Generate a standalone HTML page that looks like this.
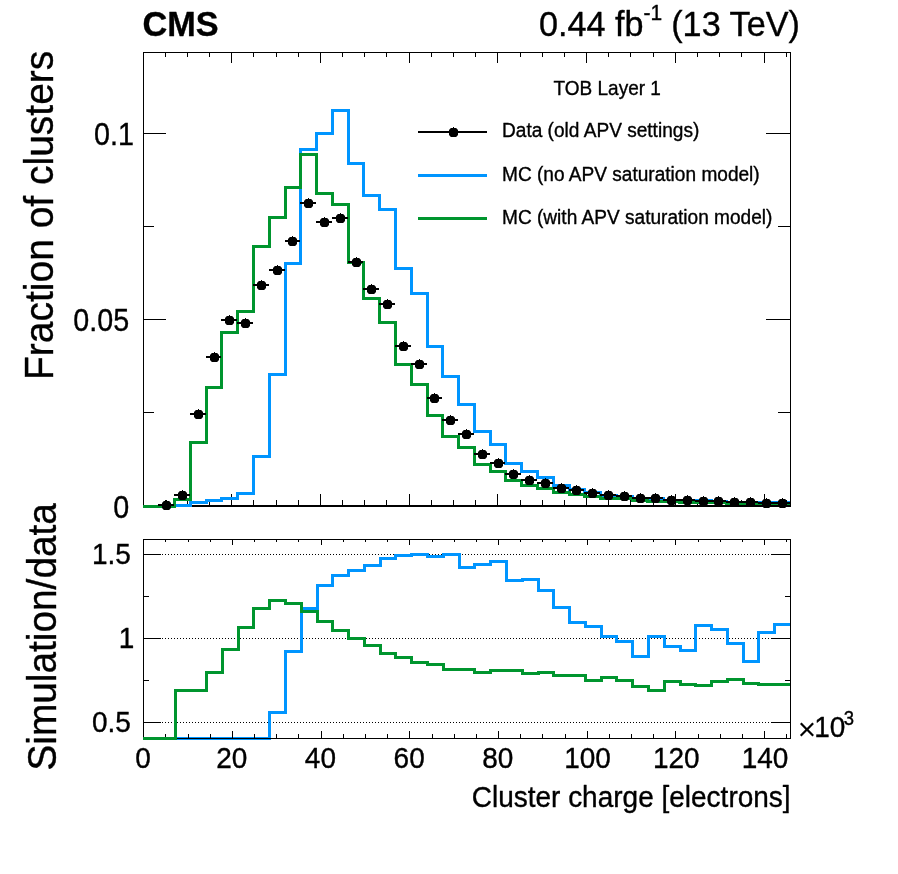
<!DOCTYPE html>
<html lang="en">
<head>
<meta charset="utf-8">
<title>CMS cluster charge - TOB Layer 1</title>
<style>
html,body{margin:0;padding:0;background:#fff;}
body{width:898px;height:874px;overflow:hidden;}
svg{display:block;will-change:transform;}
</style>
</head>
<body>
<svg width="898" height="874" viewBox="0 0 898 874">
<rect x="0" y="0" width="898" height="874" fill="#fff"/>
<g stroke="#000" stroke-width="1" fill="none" shape-rendering="crispEdges">
<rect x="143.5" y="52.5" width="647" height="454"/>
<line x1="143" y1="505.5" x2="791" y2="505.5"/>
<line x1="143.5" y1="506" x2="143.5" y2="494"/>
<line x1="143.5" y1="52" x2="143.5" y2="63"/>
<line x1="165.5" y1="506" x2="165.5" y2="500"/>
<line x1="165.5" y1="52" x2="165.5" y2="57"/>
<line x1="187.5" y1="506" x2="187.5" y2="500"/>
<line x1="187.5" y1="52" x2="187.5" y2="57"/>
<line x1="209.5" y1="506" x2="209.5" y2="500"/>
<line x1="209.5" y1="52" x2="209.5" y2="57"/>
<line x1="231.5" y1="506" x2="231.5" y2="494"/>
<line x1="231.5" y1="52" x2="231.5" y2="63"/>
<line x1="253.5" y1="506" x2="253.5" y2="500"/>
<line x1="253.5" y1="52" x2="253.5" y2="57"/>
<line x1="276.5" y1="506" x2="276.5" y2="500"/>
<line x1="276.5" y1="52" x2="276.5" y2="57"/>
<line x1="298.5" y1="506" x2="298.5" y2="500"/>
<line x1="298.5" y1="52" x2="298.5" y2="57"/>
<line x1="320.5" y1="506" x2="320.5" y2="494"/>
<line x1="320.5" y1="52" x2="320.5" y2="63"/>
<line x1="342.5" y1="506" x2="342.5" y2="500"/>
<line x1="342.5" y1="52" x2="342.5" y2="57"/>
<line x1="364.5" y1="506" x2="364.5" y2="500"/>
<line x1="364.5" y1="52" x2="364.5" y2="57"/>
<line x1="386.5" y1="506" x2="386.5" y2="500"/>
<line x1="386.5" y1="52" x2="386.5" y2="57"/>
<line x1="409.5" y1="506" x2="409.5" y2="494"/>
<line x1="409.5" y1="52" x2="409.5" y2="63"/>
<line x1="431.5" y1="506" x2="431.5" y2="500"/>
<line x1="431.5" y1="52" x2="431.5" y2="57"/>
<line x1="453.5" y1="506" x2="453.5" y2="500"/>
<line x1="453.5" y1="52" x2="453.5" y2="57"/>
<line x1="475.5" y1="506" x2="475.5" y2="500"/>
<line x1="475.5" y1="52" x2="475.5" y2="57"/>
<line x1="497.5" y1="506" x2="497.5" y2="494"/>
<line x1="497.5" y1="52" x2="497.5" y2="63"/>
<line x1="520.5" y1="506" x2="520.5" y2="500"/>
<line x1="520.5" y1="52" x2="520.5" y2="57"/>
<line x1="542.5" y1="506" x2="542.5" y2="500"/>
<line x1="542.5" y1="52" x2="542.5" y2="57"/>
<line x1="564.5" y1="506" x2="564.5" y2="500"/>
<line x1="564.5" y1="52" x2="564.5" y2="57"/>
<line x1="586.5" y1="506" x2="586.5" y2="494"/>
<line x1="586.5" y1="52" x2="586.5" y2="63"/>
<line x1="608.5" y1="506" x2="608.5" y2="500"/>
<line x1="608.5" y1="52" x2="608.5" y2="57"/>
<line x1="630.5" y1="506" x2="630.5" y2="500"/>
<line x1="630.5" y1="52" x2="630.5" y2="57"/>
<line x1="653.5" y1="506" x2="653.5" y2="500"/>
<line x1="653.5" y1="52" x2="653.5" y2="57"/>
<line x1="675.5" y1="506" x2="675.5" y2="494"/>
<line x1="675.5" y1="52" x2="675.5" y2="63"/>
<line x1="697.5" y1="506" x2="697.5" y2="500"/>
<line x1="697.5" y1="52" x2="697.5" y2="57"/>
<line x1="719.5" y1="506" x2="719.5" y2="500"/>
<line x1="719.5" y1="52" x2="719.5" y2="57"/>
<line x1="741.5" y1="506" x2="741.5" y2="500"/>
<line x1="741.5" y1="52" x2="741.5" y2="57"/>
<line x1="764.5" y1="506" x2="764.5" y2="494"/>
<line x1="764.5" y1="52" x2="764.5" y2="63"/>
<line x1="786.5" y1="506" x2="786.5" y2="500"/>
<line x1="786.5" y1="52" x2="786.5" y2="57"/>
<line x1="143" y1="506.5" x2="166" y2="506.5"/>
<line x1="766" y1="506.5" x2="791" y2="506.5"/>
<line x1="143" y1="412.5" x2="154" y2="412.5"/>
<line x1="778" y1="412.5" x2="791" y2="412.5"/>
<line x1="143" y1="319.5" x2="166" y2="319.5"/>
<line x1="766" y1="319.5" x2="791" y2="319.5"/>
<line x1="143" y1="226.5" x2="154" y2="226.5"/>
<line x1="778" y1="226.5" x2="791" y2="226.5"/>
<line x1="143" y1="133.5" x2="166" y2="133.5"/>
<line x1="766" y1="133.5" x2="791" y2="133.5"/>
</g>
<g fill="none" stroke-width="3" stroke-linejoin="miter" stroke-linecap="butt" shape-rendering="crispEdges">
<path d="M143.0,506.5 L158.5,506.5 L158.5,506.5 L174.5,506.5 L174.5,505.5 L190.5,505.5 L190.5,502.5 L206.5,502.5 L206.5,500.5 L221.5,500.5 L221.5,498.5 L237.5,498.5 L237.5,493.5 L253.5,493.5 L253.5,456.5 L269.5,456.5 L269.5,374.5 L285.5,374.5 L285.5,263.5 L300.5,263.5 L300.5,149.5 L316.5,149.5 L316.5,133.5 L332.5,133.5 L332.5,110.5 L348.5,110.5 L348.5,163.5 L363.5,163.5 L363.5,195.5 L379.5,195.5 L379.5,209.5 L395.5,209.5 L395.5,268.5 L411.5,268.5 L411.5,293.5 L427.5,293.5 L427.5,346.5 L442.5,346.5 L442.5,376.5 L458.5,376.5 L458.5,404.5 L474.5,404.5 L474.5,431.5 L490.5,431.5 L490.5,444.5 L505.5,444.5 L505.5,463.5 L521.5,463.5 L521.5,471.5 L537.5,471.5 L537.5,477.5 L553.5,477.5 L553.5,485.5 L569.5,485.5 L569.5,489.5 L584.5,489.5 L584.5,492.5 L600.5,492.5 L600.5,495.5 L616.5,495.5 L616.5,496.5 L632.5,496.5 L632.5,498.5 L647.5,498.5 L647.5,498.5 L663.5,498.5 L663.5,500.5 L679.5,500.5 L679.5,500.5 L695.5,500.5 L695.5,500.5 L711.5,500.5 L711.5,501.5 L726.5,501.5 L726.5,502.5 L742.5,502.5 L742.5,503.5 L758.5,503.5 L758.5,502.5 L774.5,502.5 L774.5,502.5 L790.0,502.5" stroke="#0095ff"/>
<path d="M143.0,506.5 L158.5,506.5 L158.5,506.5 L174.5,506.5 L174.5,499.5 L190.5,499.5 L190.5,442.5 L206.5,442.5 L206.5,387.5 L221.5,387.5 L221.5,332.5 L237.5,332.5 L237.5,311.5 L253.5,311.5 L253.5,246.5 L269.5,246.5 L269.5,217.5 L285.5,217.5 L285.5,187.5 L300.5,187.5 L300.5,154.5 L316.5,154.5 L316.5,193.5 L332.5,193.5 L332.5,204.5 L348.5,204.5 L348.5,262.5 L363.5,262.5 L363.5,298.5 L379.5,298.5 L379.5,322.5 L395.5,322.5 L395.5,364.5 L411.5,364.5 L411.5,384.5 L427.5,384.5 L427.5,415.5 L442.5,415.5 L442.5,436.5 L458.5,436.5 L458.5,447.5 L474.5,447.5 L474.5,464.5 L490.5,464.5 L490.5,471.5 L505.5,471.5 L505.5,480.5 L521.5,480.5 L521.5,485.5 L537.5,485.5 L537.5,488.5 L553.5,488.5 L553.5,492.5 L569.5,492.5 L569.5,494.5 L584.5,494.5 L584.5,496.5 L600.5,496.5 L600.5,498.5 L616.5,498.5 L616.5,498.5 L632.5,498.5 L632.5,500.5 L647.5,500.5 L647.5,501.5 L663.5,501.5 L663.5,501.5 L679.5,501.5 L679.5,502.5 L695.5,502.5 L695.5,502.5 L711.5,502.5 L711.5,502.5 L726.5,502.5 L726.5,503.5 L742.5,503.5 L742.5,503.5 L758.5,503.5 L758.5,503.5 L774.5,503.5 L774.5,503.5 L790.0,503.5" stroke="#00952e"/>
</g>
<g stroke="#000" stroke-width="1" fill="none" shape-rendering="crispEdges" stroke-dasharray="1 2">
<line x1="144" y1="722.5" x2="790" y2="722.5"/>
<line x1="144" y1="638.5" x2="790" y2="638.5"/>
<line x1="144" y1="554.5" x2="790" y2="554.5"/>
</g>
<g fill="none" stroke-width="3" stroke-linejoin="miter" stroke-linecap="butt" shape-rendering="crispEdges">
<path d="M143.0,738.5 L159.5,738.5 L159.5,738.5 L175.5,738.5 L175.5,738.5 L190.5,738.5 L190.5,738.5 L206.5,738.5 L206.5,738.5 L222.5,738.5 L222.5,738.5 L238.5,738.5 L238.5,738.5 L253.5,738.5 L253.5,738.5 L269.5,738.5 L269.5,712.5 L285.5,712.5 L285.5,651.5 L301.5,651.5 L301.5,608.5 L317.5,608.5 L317.5,585.5 L332.5,585.5 L332.5,575.5 L348.5,575.5 L348.5,570.5 L364.5,570.5 L364.5,565.5 L380.5,565.5 L380.5,558.5 L395.5,558.5 L395.5,555.5 L411.5,555.5 L411.5,554.5 L427.5,554.5 L427.5,556.5 L443.5,556.5 L443.5,554.5 L459.5,554.5 L459.5,567.5 L474.5,567.5 L474.5,564.5 L490.5,564.5 L490.5,561.5 L506.5,561.5 L506.5,580.5 L522.5,580.5 L522.5,579.5 L538.5,579.5 L538.5,590.5 L553.5,590.5 L553.5,607.5 L569.5,607.5 L569.5,622.5 L585.5,622.5 L585.5,626.5 L601.5,626.5 L601.5,636.5 L616.5,636.5 L616.5,641.5 L632.5,641.5 L632.5,656.5 L648.5,656.5 L648.5,636.5 L664.5,636.5 L664.5,646.5 L680.5,646.5 L680.5,650.5 L695.5,650.5 L695.5,625.5 L711.5,625.5 L711.5,629.5 L727.5,629.5 L727.5,643.5 L743.5,643.5 L743.5,661.5 L758.5,661.5 L758.5,632.5 L774.5,632.5 L774.5,624.5 L790.0,624.5" stroke="#0095ff"/>
</g>
<g stroke="#000" stroke-width="1" fill="none" shape-rendering="crispEdges">
<rect x="143.5" y="539.5" width="647" height="199"/>
<line x1="143.5" y1="738" x2="143.5" y2="731"/>
<line x1="143.5" y1="539" x2="143.5" y2="545"/>
<line x1="165.5" y1="738" x2="165.5" y2="734"/>
<line x1="165.5" y1="539" x2="165.5" y2="542"/>
<line x1="188.5" y1="738" x2="188.5" y2="734"/>
<line x1="188.5" y1="539" x2="188.5" y2="542"/>
<line x1="210.5" y1="738" x2="210.5" y2="734"/>
<line x1="210.5" y1="539" x2="210.5" y2="542"/>
<line x1="232.5" y1="738" x2="232.5" y2="731"/>
<line x1="232.5" y1="539" x2="232.5" y2="545"/>
<line x1="254.5" y1="738" x2="254.5" y2="734"/>
<line x1="254.5" y1="539" x2="254.5" y2="542"/>
<line x1="276.5" y1="738" x2="276.5" y2="734"/>
<line x1="276.5" y1="539" x2="276.5" y2="542"/>
<line x1="298.5" y1="738" x2="298.5" y2="734"/>
<line x1="298.5" y1="539" x2="298.5" y2="542"/>
<line x1="321.5" y1="738" x2="321.5" y2="731"/>
<line x1="321.5" y1="539" x2="321.5" y2="545"/>
<line x1="343.5" y1="738" x2="343.5" y2="734"/>
<line x1="343.5" y1="539" x2="343.5" y2="542"/>
<line x1="365.5" y1="738" x2="365.5" y2="734"/>
<line x1="365.5" y1="539" x2="365.5" y2="542"/>
<line x1="387.5" y1="738" x2="387.5" y2="734"/>
<line x1="387.5" y1="539" x2="387.5" y2="542"/>
<line x1="409.5" y1="738" x2="409.5" y2="731"/>
<line x1="409.5" y1="539" x2="409.5" y2="545"/>
<line x1="432.5" y1="738" x2="432.5" y2="734"/>
<line x1="432.5" y1="539" x2="432.5" y2="542"/>
<line x1="454.5" y1="738" x2="454.5" y2="734"/>
<line x1="454.5" y1="539" x2="454.5" y2="542"/>
<line x1="476.5" y1="738" x2="476.5" y2="734"/>
<line x1="476.5" y1="539" x2="476.5" y2="542"/>
<line x1="498.5" y1="738" x2="498.5" y2="731"/>
<line x1="498.5" y1="539" x2="498.5" y2="545"/>
<line x1="520.5" y1="738" x2="520.5" y2="734"/>
<line x1="520.5" y1="539" x2="520.5" y2="542"/>
<line x1="542.5" y1="738" x2="542.5" y2="734"/>
<line x1="542.5" y1="539" x2="542.5" y2="542"/>
<line x1="565.5" y1="738" x2="565.5" y2="734"/>
<line x1="565.5" y1="539" x2="565.5" y2="542"/>
<line x1="587.5" y1="738" x2="587.5" y2="731"/>
<line x1="587.5" y1="539" x2="587.5" y2="545"/>
<line x1="609.5" y1="738" x2="609.5" y2="734"/>
<line x1="609.5" y1="539" x2="609.5" y2="542"/>
<line x1="631.5" y1="738" x2="631.5" y2="734"/>
<line x1="631.5" y1="539" x2="631.5" y2="542"/>
<line x1="653.5" y1="738" x2="653.5" y2="734"/>
<line x1="653.5" y1="539" x2="653.5" y2="542"/>
<line x1="675.5" y1="738" x2="675.5" y2="731"/>
<line x1="675.5" y1="539" x2="675.5" y2="545"/>
<line x1="698.5" y1="738" x2="698.5" y2="734"/>
<line x1="698.5" y1="539" x2="698.5" y2="542"/>
<line x1="720.5" y1="738" x2="720.5" y2="734"/>
<line x1="720.5" y1="539" x2="720.5" y2="542"/>
<line x1="742.5" y1="738" x2="742.5" y2="734"/>
<line x1="742.5" y1="539" x2="742.5" y2="542"/>
<line x1="764.5" y1="738" x2="764.5" y2="731"/>
<line x1="764.5" y1="539" x2="764.5" y2="545"/>
<line x1="786.5" y1="738" x2="786.5" y2="734"/>
<line x1="786.5" y1="539" x2="786.5" y2="542"/>
<line x1="143" y1="722.5" x2="161" y2="722.5"/>
<line x1="771" y1="722.5" x2="791" y2="722.5"/>
<line x1="143" y1="680.5" x2="149" y2="680.5"/>
<line x1="785" y1="680.5" x2="791" y2="680.5"/>
<line x1="143" y1="638.5" x2="161" y2="638.5"/>
<line x1="771" y1="638.5" x2="791" y2="638.5"/>
<line x1="143" y1="596.5" x2="149" y2="596.5"/>
<line x1="785" y1="596.5" x2="791" y2="596.5"/>
<line x1="143" y1="554.5" x2="161" y2="554.5"/>
<line x1="771" y1="554.5" x2="791" y2="554.5"/>
</g>
<g fill="none" stroke-width="3" stroke-linejoin="miter" stroke-linecap="butt" shape-rendering="crispEdges">
<path d="M143.0,738.5 L159.5,738.5 L159.5,738.5 L175.5,738.5 L175.5,690.5 L190.5,690.5 L190.5,690.5 L206.5,690.5 L206.5,672.5 L222.5,672.5 L222.5,649.5 L238.5,649.5 L238.5,627.5 L253.5,627.5 L253.5,608.5 L269.5,608.5 L269.5,600.5 L285.5,600.5 L285.5,603.5 L301.5,603.5 L301.5,611.5 L317.5,611.5 L317.5,621.5 L332.5,621.5 L332.5,630.5 L348.5,630.5 L348.5,638.5 L364.5,638.5 L364.5,645.5 L380.5,645.5 L380.5,653.5 L395.5,653.5 L395.5,657.5 L411.5,657.5 L411.5,662.5 L427.5,662.5 L427.5,664.5 L443.5,664.5 L443.5,669.5 L459.5,669.5 L459.5,669.5 L474.5,669.5 L474.5,672.5 L490.5,672.5 L490.5,670.5 L506.5,670.5 L506.5,670.5 L522.5,670.5 L522.5,673.5 L538.5,673.5 L538.5,672.5 L553.5,672.5 L553.5,675.5 L569.5,675.5 L569.5,675.5 L585.5,675.5 L585.5,680.5 L601.5,680.5 L601.5,677.5 L616.5,677.5 L616.5,680.5 L632.5,680.5 L632.5,686.5 L648.5,686.5 L648.5,690.5 L664.5,690.5 L664.5,681.5 L680.5,681.5 L680.5,684.5 L695.5,684.5 L695.5,685.5 L711.5,685.5 L711.5,681.5 L727.5,681.5 L727.5,679.5 L743.5,679.5 L743.5,683.5 L758.5,683.5 L758.5,684.5 L774.5,684.5 L774.5,684.5 L790.0,684.5" stroke="#00952e"/>
</g>
<g stroke="#000" shape-rendering="crispEdges">
<line x1="158.0" y1="505.0" x2="174.0" y2="505.0" stroke-width="2"/>
<line x1="166.5" y1="500.0" x2="166.5" y2="505.5" stroke-width="1"/>
<line x1="174.0" y1="495.0" x2="190.0" y2="495.0" stroke-width="2"/>
<line x1="182.5" y1="490.0" x2="182.5" y2="495.5" stroke-width="1"/>
<line x1="190.0" y1="414.0" x2="206.0" y2="414.0" stroke-width="2"/>
<line x1="198.5" y1="409.0" x2="198.5" y2="414.5" stroke-width="1"/>
<line x1="206.0" y1="357.0" x2="221.0" y2="357.0" stroke-width="2"/>
<line x1="214.5" y1="352.0" x2="214.5" y2="357.5" stroke-width="1"/>
<line x1="221.0" y1="320.0" x2="237.0" y2="320.0" stroke-width="2"/>
<line x1="229.5" y1="315.0" x2="229.5" y2="320.5" stroke-width="1"/>
<line x1="237.0" y1="323.0" x2="253.0" y2="323.0" stroke-width="2"/>
<line x1="245.5" y1="318.0" x2="245.5" y2="323.5" stroke-width="1"/>
<line x1="253.0" y1="285.0" x2="269.0" y2="285.0" stroke-width="2"/>
<line x1="261.5" y1="280.0" x2="261.5" y2="285.5" stroke-width="1"/>
<line x1="269.0" y1="270.0" x2="285.0" y2="270.0" stroke-width="2"/>
<line x1="277.5" y1="265.0" x2="277.5" y2="270.5" stroke-width="1"/>
<line x1="285.0" y1="241.0" x2="300.0" y2="241.0" stroke-width="2"/>
<line x1="292.5" y1="236.0" x2="292.5" y2="241.5" stroke-width="1"/>
<line x1="300.0" y1="203.0" x2="316.0" y2="203.0" stroke-width="2"/>
<line x1="308.5" y1="198.0" x2="308.5" y2="203.5" stroke-width="1"/>
<line x1="316.0" y1="222.0" x2="332.0" y2="222.0" stroke-width="2"/>
<line x1="324.5" y1="217.0" x2="324.5" y2="222.5" stroke-width="1"/>
<line x1="332.0" y1="218.0" x2="348.0" y2="218.0" stroke-width="2"/>
<line x1="340.5" y1="213.0" x2="340.5" y2="218.5" stroke-width="1"/>
<line x1="348.0" y1="262.0" x2="363.0" y2="262.0" stroke-width="2"/>
<line x1="356.5" y1="257.0" x2="356.5" y2="262.5" stroke-width="1"/>
<line x1="363.0" y1="289.0" x2="379.0" y2="289.0" stroke-width="2"/>
<line x1="371.5" y1="284.0" x2="371.5" y2="289.5" stroke-width="1"/>
<line x1="379.0" y1="304.0" x2="395.0" y2="304.0" stroke-width="2"/>
<line x1="387.5" y1="299.0" x2="387.5" y2="304.5" stroke-width="1"/>
<line x1="395.0" y1="346.0" x2="411.0" y2="346.0" stroke-width="2"/>
<line x1="403.5" y1="341.0" x2="403.5" y2="346.5" stroke-width="1"/>
<line x1="411.0" y1="364.0" x2="427.0" y2="364.0" stroke-width="2"/>
<line x1="419.5" y1="359.0" x2="419.5" y2="364.5" stroke-width="1"/>
<line x1="427.0" y1="398.0" x2="442.0" y2="398.0" stroke-width="2"/>
<line x1="434.5" y1="393.0" x2="434.5" y2="398.5" stroke-width="1"/>
<line x1="442.0" y1="420.0" x2="458.0" y2="420.0" stroke-width="2"/>
<line x1="450.5" y1="415.0" x2="450.5" y2="420.5" stroke-width="1"/>
<line x1="458.0" y1="434.0" x2="474.0" y2="434.0" stroke-width="2"/>
<line x1="466.5" y1="429.0" x2="466.5" y2="434.5" stroke-width="1"/>
<line x1="474.0" y1="454.0" x2="490.0" y2="454.0" stroke-width="2"/>
<line x1="482.5" y1="449.0" x2="482.5" y2="454.5" stroke-width="1"/>
<line x1="490.0" y1="463.0" x2="505.0" y2="463.0" stroke-width="2"/>
<line x1="498.5" y1="458.0" x2="498.5" y2="463.5" stroke-width="1"/>
<line x1="505.0" y1="474.0" x2="521.0" y2="474.0" stroke-width="2"/>
<line x1="513.5" y1="469.0" x2="513.5" y2="474.5" stroke-width="1"/>
<line x1="521.0" y1="480.0" x2="537.0" y2="480.0" stroke-width="2"/>
<line x1="529.5" y1="475.0" x2="529.5" y2="480.5" stroke-width="1"/>
<line x1="537.0" y1="483.0" x2="553.0" y2="483.0" stroke-width="2"/>
<line x1="545.5" y1="478.0" x2="545.5" y2="483.5" stroke-width="1"/>
<line x1="553.0" y1="488.0" x2="569.0" y2="488.0" stroke-width="2"/>
<line x1="561.5" y1="483.0" x2="561.5" y2="488.5" stroke-width="1"/>
<line x1="569.0" y1="490.0" x2="584.0" y2="490.0" stroke-width="2"/>
<line x1="576.5" y1="485.0" x2="576.5" y2="490.5" stroke-width="1"/>
<line x1="584.0" y1="493.0" x2="600.0" y2="493.0" stroke-width="2"/>
<line x1="592.5" y1="488.0" x2="592.5" y2="493.5" stroke-width="1"/>
<line x1="600.0" y1="495.0" x2="616.0" y2="495.0" stroke-width="2"/>
<line x1="608.5" y1="490.0" x2="608.5" y2="495.5" stroke-width="1"/>
<line x1="616.0" y1="496.0" x2="632.0" y2="496.0" stroke-width="2"/>
<line x1="624.5" y1="491.0" x2="624.5" y2="496.5" stroke-width="1"/>
<line x1="632.0" y1="498.0" x2="647.0" y2="498.0" stroke-width="2"/>
<line x1="640.5" y1="493.0" x2="640.5" y2="498.5" stroke-width="1"/>
<line x1="647.0" y1="498.0" x2="663.0" y2="498.0" stroke-width="2"/>
<line x1="655.5" y1="493.0" x2="655.5" y2="498.5" stroke-width="1"/>
<line x1="663.0" y1="500.0" x2="679.0" y2="500.0" stroke-width="2"/>
<line x1="671.5" y1="495.0" x2="671.5" y2="500.5" stroke-width="1"/>
<line x1="679.0" y1="500.0" x2="695.0" y2="500.0" stroke-width="2"/>
<line x1="687.5" y1="495.0" x2="687.5" y2="500.5" stroke-width="1"/>
<line x1="695.0" y1="501.0" x2="711.0" y2="501.0" stroke-width="2"/>
<line x1="703.5" y1="496.0" x2="703.5" y2="501.5" stroke-width="1"/>
<line x1="711.0" y1="501.0" x2="726.0" y2="501.0" stroke-width="2"/>
<line x1="718.5" y1="496.0" x2="718.5" y2="501.5" stroke-width="1"/>
<line x1="726.0" y1="502.0" x2="742.0" y2="502.0" stroke-width="2"/>
<line x1="734.5" y1="497.0" x2="734.5" y2="502.5" stroke-width="1"/>
<line x1="742.0" y1="502.0" x2="758.0" y2="502.0" stroke-width="2"/>
<line x1="750.5" y1="497.0" x2="750.5" y2="502.5" stroke-width="1"/>
<line x1="758.0" y1="503.0" x2="774.0" y2="503.0" stroke-width="2"/>
<line x1="766.5" y1="498.0" x2="766.5" y2="503.5" stroke-width="1"/>
<line x1="774.0" y1="503.0" x2="790.5" y2="503.0" stroke-width="2"/>
<line x1="782.5" y1="498.0" x2="782.5" y2="503.5" stroke-width="1"/>
</g>
<g fill="#000">
<polygon points="163.9,501.0 169.1,501.0 171.0,502.9 171.0,508.1 169.1,510.0 163.9,510.0 162.0,508.1 162.0,502.9"/>
<polygon points="179.9,491.0 185.1,491.0 187.0,492.9 187.0,498.1 185.1,500.0 179.9,500.0 178.0,498.1 178.0,492.9"/>
<polygon points="195.9,410.0 201.1,410.0 203.0,411.9 203.0,417.1 201.1,419.0 195.9,419.0 194.0,417.1 194.0,411.9"/>
<polygon points="211.9,353.0 217.1,353.0 219.0,354.9 219.0,360.1 217.1,362.0 211.9,362.0 210.0,360.1 210.0,354.9"/>
<polygon points="226.9,316.0 232.1,316.0 234.0,317.9 234.0,323.1 232.1,325.0 226.9,325.0 225.0,323.1 225.0,317.9"/>
<polygon points="242.9,319.0 248.1,319.0 250.0,320.9 250.0,326.1 248.1,328.0 242.9,328.0 241.0,326.1 241.0,320.9"/>
<polygon points="258.9,281.0 264.1,281.0 266.0,282.9 266.0,288.1 264.1,290.0 258.9,290.0 257.0,288.1 257.0,282.9"/>
<polygon points="274.9,266.0 280.1,266.0 282.0,267.9 282.0,273.1 280.1,275.0 274.9,275.0 273.0,273.1 273.0,267.9"/>
<polygon points="289.9,237.0 295.1,237.0 297.0,238.9 297.0,244.1 295.1,246.0 289.9,246.0 288.0,244.1 288.0,238.9"/>
<polygon points="305.9,199.0 311.1,199.0 313.0,200.9 313.0,206.1 311.1,208.0 305.9,208.0 304.0,206.1 304.0,200.9"/>
<polygon points="321.9,218.0 327.1,218.0 329.0,219.9 329.0,225.1 327.1,227.0 321.9,227.0 320.0,225.1 320.0,219.9"/>
<polygon points="337.9,214.0 343.1,214.0 345.0,215.9 345.0,221.1 343.1,223.0 337.9,223.0 336.0,221.1 336.0,215.9"/>
<polygon points="353.9,258.0 359.1,258.0 361.0,259.9 361.0,265.1 359.1,267.0 353.9,267.0 352.0,265.1 352.0,259.9"/>
<polygon points="368.9,285.0 374.1,285.0 376.0,286.9 376.0,292.1 374.1,294.0 368.9,294.0 367.0,292.1 367.0,286.9"/>
<polygon points="384.9,300.0 390.1,300.0 392.0,301.9 392.0,307.1 390.1,309.0 384.9,309.0 383.0,307.1 383.0,301.9"/>
<polygon points="400.9,342.0 406.1,342.0 408.0,343.9 408.0,349.1 406.1,351.0 400.9,351.0 399.0,349.1 399.0,343.9"/>
<polygon points="416.9,360.0 422.1,360.0 424.0,361.9 424.0,367.1 422.1,369.0 416.9,369.0 415.0,367.1 415.0,361.9"/>
<polygon points="431.9,394.0 437.1,394.0 439.0,395.9 439.0,401.1 437.1,403.0 431.9,403.0 430.0,401.1 430.0,395.9"/>
<polygon points="447.9,416.0 453.1,416.0 455.0,417.9 455.0,423.1 453.1,425.0 447.9,425.0 446.0,423.1 446.0,417.9"/>
<polygon points="463.9,430.0 469.1,430.0 471.0,431.9 471.0,437.1 469.1,439.0 463.9,439.0 462.0,437.1 462.0,431.9"/>
<polygon points="479.9,450.0 485.1,450.0 487.0,451.9 487.0,457.1 485.1,459.0 479.9,459.0 478.0,457.1 478.0,451.9"/>
<polygon points="495.9,459.0 501.1,459.0 503.0,460.9 503.0,466.1 501.1,468.0 495.9,468.0 494.0,466.1 494.0,460.9"/>
<polygon points="510.9,470.0 516.1,470.0 518.0,471.9 518.0,477.1 516.1,479.0 510.9,479.0 509.0,477.1 509.0,471.9"/>
<polygon points="526.9,476.0 532.1,476.0 534.0,477.9 534.0,483.1 532.1,485.0 526.9,485.0 525.0,483.1 525.0,477.9"/>
<polygon points="542.9,479.0 548.1,479.0 550.0,480.9 550.0,486.1 548.1,488.0 542.9,488.0 541.0,486.1 541.0,480.9"/>
<polygon points="558.9,484.0 564.1,484.0 566.0,485.9 566.0,491.1 564.1,493.0 558.9,493.0 557.0,491.1 557.0,485.9"/>
<polygon points="573.9,486.0 579.1,486.0 581.0,487.9 581.0,493.1 579.1,495.0 573.9,495.0 572.0,493.1 572.0,487.9"/>
<polygon points="589.9,489.0 595.1,489.0 597.0,490.9 597.0,496.1 595.1,498.0 589.9,498.0 588.0,496.1 588.0,490.9"/>
<polygon points="605.9,491.0 611.1,491.0 613.0,492.9 613.0,498.1 611.1,500.0 605.9,500.0 604.0,498.1 604.0,492.9"/>
<polygon points="621.9,492.0 627.1,492.0 629.0,493.9 629.0,499.1 627.1,501.0 621.9,501.0 620.0,499.1 620.0,493.9"/>
<polygon points="637.9,494.0 643.1,494.0 645.0,495.9 645.0,501.1 643.1,503.0 637.9,503.0 636.0,501.1 636.0,495.9"/>
<polygon points="652.9,494.0 658.1,494.0 660.0,495.9 660.0,501.1 658.1,503.0 652.9,503.0 651.0,501.1 651.0,495.9"/>
<polygon points="668.9,496.0 674.1,496.0 676.0,497.9 676.0,503.1 674.1,505.0 668.9,505.0 667.0,503.1 667.0,497.9"/>
<polygon points="684.9,496.0 690.1,496.0 692.0,497.9 692.0,503.1 690.1,505.0 684.9,505.0 683.0,503.1 683.0,497.9"/>
<polygon points="700.9,497.0 706.1,497.0 708.0,498.9 708.0,504.1 706.1,506.0 700.9,506.0 699.0,504.1 699.0,498.9"/>
<polygon points="715.9,497.0 721.1,497.0 723.0,498.9 723.0,504.1 721.1,506.0 715.9,506.0 714.0,504.1 714.0,498.9"/>
<polygon points="731.9,498.0 737.1,498.0 739.0,499.9 739.0,505.1 737.1,507.0 731.9,507.0 730.0,505.1 730.0,499.9"/>
<polygon points="747.9,498.0 753.1,498.0 755.0,499.9 755.0,505.1 753.1,507.0 747.9,507.0 746.0,505.1 746.0,499.9"/>
<polygon points="763.9,499.0 769.1,499.0 771.0,500.9 771.0,506.1 769.1,508.0 763.9,508.0 762.0,506.1 762.0,500.9"/>
<polygon points="779.9,499.0 785.1,499.0 787.0,500.9 787.0,506.1 785.1,508.0 779.9,508.0 778.0,506.1 778.0,500.9"/>
</g>
<g shape-rendering="crispEdges" fill="none">
<line x1="418" y1="132" x2="487" y2="132" stroke="#000" stroke-width="2"/>
<line x1="418" y1="175.5" x2="487" y2="175.5" stroke="#0095ff" stroke-width="3"/>
<line x1="418" y1="218.5" x2="487" y2="218.5" stroke="#00952e" stroke-width="3"/>
</g>
<g fill="#000"><polygon points="450.9,128.0 456.1,128.0 458.0,129.9 458.0,135.1 456.1,137.0 450.9,137.0 449.0,135.1 449.0,129.9"/><rect x="453" y="127" width="1" height="2" shape-rendering="crispEdges"/></g>
<g font-family="'Liberation Sans', Arial, Helvetica, sans-serif" fill="#000" stroke="#000" stroke-width="0.35" stroke-linejoin="round">
<text transform="translate(142.40,36.00) scale(1.0000,1.0300)" font-size="34.3" font-weight="bold">CMS</text>
<text transform="translate(539.00,35.50) scale(1.0000,1.0450)" font-size="34.2">0.44 fb<tspan font-size="21" dy="-14.4">-1</tspan><tspan dy="14.4" dx="-0.5"> (13 TeV)</tspan></text>
<text transform="translate(607.20,94.50) scale(1.0000,1.0450)" font-size="19" text-anchor="middle">TOB Layer 1</text>
<text transform="translate(502.00,137.00) scale(1.0000,1.0450)" font-size="19.1">Data (old APV settings)</text>
<text transform="translate(502.00,181.10) scale(1.0000,1.0450)" font-size="19.1">MC (no APV saturation model)</text>
<text transform="translate(502.00,224.10) scale(1.0000,1.0450)" font-size="19.1">MC (with APV saturation model)</text>
<text transform="translate(133.90,144.50) scale(1.0000,1.0700)" font-size="28.7" text-anchor="end">0.1</text>
<text transform="translate(129.10,330.50) scale(1.0000,1.0700)" font-size="28.7" text-anchor="end">0.05</text>
<text transform="translate(129.10,517.50) scale(1.0000,1.0700)" font-size="28.7" text-anchor="end">0</text>
<text transform="translate(130.80,563.80) scale(1.0000,1.0450)" font-size="28.0" text-anchor="end">1.5</text>
<text transform="translate(134.40,647.80) scale(1.0000,1.0450)" font-size="28.0" text-anchor="end">1</text>
<text transform="translate(130.80,731.80) scale(1.0000,1.0450)" font-size="28.0" text-anchor="end">0.5</text>
<text transform="translate(143.00,768.20) scale(1.0000,1.0450)" font-size="28.0" text-anchor="middle">0</text>
<text transform="translate(231.71,768.20) scale(1.0000,1.0450)" font-size="28.0" text-anchor="middle">20</text>
<text transform="translate(320.43,768.20) scale(1.0000,1.0450)" font-size="28.0" text-anchor="middle">40</text>
<text transform="translate(409.14,768.20) scale(1.0000,1.0450)" font-size="28.0" text-anchor="middle">60</text>
<text transform="translate(497.86,768.20) scale(1.0000,1.0450)" font-size="28.0" text-anchor="middle">80</text>
<text transform="translate(587.57,768.20) scale(1.0000,1.0450)" font-size="28.0" text-anchor="middle">100</text>
<text transform="translate(676.29,768.20) scale(1.0000,1.0450)" font-size="28.0" text-anchor="middle">120</text>
<text transform="translate(765.00,768.20) scale(1.0000,1.0450)" font-size="28.0" text-anchor="middle">140</text>
<text transform="translate(790.60,806.50) scale(1.0000,1.0450)" font-size="28.0" text-anchor="end">Cluster charge [electrons]</text>
<text transform="translate(797.70,740.00)" font-size="31.5" stroke-width="0">×</text>
<text transform="translate(814.20,736.60) scale(1.0000,1.0450)" font-size="28.0">10</text>
<text transform="translate(843.80,724.90) scale(1.0000,1.0450)" font-size="18.5">3</text>
<text transform="translate(53.40,380.00) rotate(-90) scale(1.0000,1.0450)" font-size="39.0">Fraction of clusters</text>
<text transform="translate(56.30,770.50) rotate(-90) scale(1.0000,1.0450)" font-size="38.8">Simulation/data</text>
</g>
</svg>
</body>
</html>
